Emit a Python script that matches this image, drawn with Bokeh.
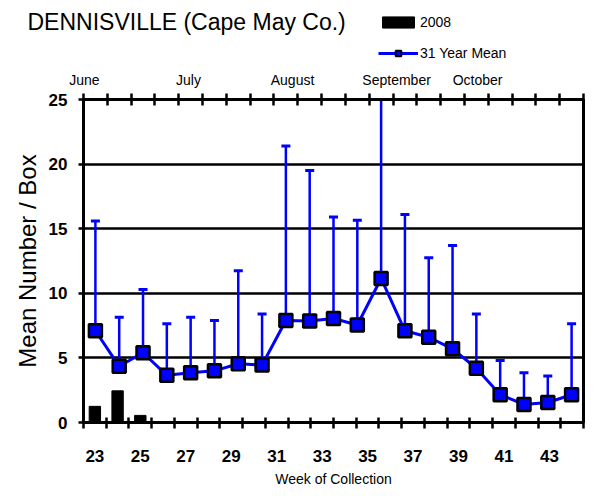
import numpy as np
from bokeh.plotting import figure
from bokeh.models import Range1d, LinearAxis, FixedTicker, Legend, LegendItem, Label, ColumnDataSource
from bokeh.layouts import column
from bokeh.embed import file_html
from bokeh.resources import INLINE

# ---- data ----
weeks = [23, 24, 25, 26, 27, 28, 29, 30, 31, 32, 33, 34, 35, 36, 37, 38, 39, 40, 41, 42, 43, 44]
week_labels = [23, 25, 27, 29, 31, 33, 35, 37, 39, 41, 43]
bars_2008 = [1.25, 2.45, 0.55, 0, 0, 0, 0, 0, 0, 0, 0, 0, 0, 0, 0, 0, 0, 0, 0, 0, 0, 0]

mean_slot = [1, 2, 3, 4, 5, 6, 7, 8, 9, 10, 11, 12, 13, 14, 15, 16, 17, 18, 19, 20, 21]
mean_31yr = [7.1, 4.35, 5.4, 3.65, 3.85, 4.0, 4.55, 4.45, 7.9, 7.85, 8.05,
             7.55, 11.15, 7.1, 6.6, 5.7, 4.2, 2.15, 1.4, 1.55, 2.15]
mean_upper = [15.6, 8.15, 10.3, 7.65, 8.15, 7.9, 11.75, 8.4, 21.4, 19.5, 15.9,
              15.65, 25.0, 16.1, 12.75, 13.7, 8.4, 4.8, 3.85, 3.6, 7.65]

months = ["June", "July", "August", "September", "October"]
month_pos = [0.54, 4.91, 9.28, 13.65, 17.05]

FONT = "Liberation Sans"
BLUE = "#0000FF"
W = 590
HEAD_H = 68

# ================= header: title + legend =================
head = figure(width=W, height=HEAD_H, x_range=Range1d(0, 1), y_range=Range1d(0, 1),
              x_axis_type=None, y_axis_type=None, output_backend="svg", toolbar_location=None,
              min_border_left=0, min_border_right=0, min_border_top=0, min_border_bottom=0)
head.frame_align = False
head.outline_line_color = None
head.xgrid.visible = False
head.ygrid.visible = False
head.background_fill_color = "white"
head.border_fill_color = "white"

# legend-only renderers (one undefined point: they draw nothing in the header itself)
swatch = ColumnDataSource(data=dict(x=np.array([np.nan]), y=np.array([np.nan])))
leg_bar = head.vbar(x="x", top="y", width=0.5, source=swatch, fill_color="black", line_color="black")
leg_line = head.line(x="x", y="y", source=swatch, line_color=BLUE, line_width=3)
leg_mark = head.scatter(x="x", y="y", source=swatch, marker="square", size=13,
                        fill_color=BLUE, line_color="black", line_width=2)

legend = Legend(items=[LegendItem(label="2008", renderers=[leg_bar]),
                       LegendItem(label="31 Year Mean", renderers=[leg_line, leg_mark])],
                location=(378, 7.5), glyph_width=40, glyph_height=14, spacing=15,
                label_text_font=FONT, label_text_font_size="14px", label_standoff=2,
                label_text_color="black", padding=0, margin=0,
                border_line_color=None, background_fill_alpha=0)
head.add_layout(legend)

head.add_layout(Label(x=27, y=HEAD_H - 21, x_units="screen", y_units="screen",
                      text="DENNISVILLE (Cape May Co.)", text_font=FONT, text_font_size="23px",
                      text_color="black", text_align="left", text_baseline="middle"))

# ================= main chart =================
p = figure(width=W, height=496 - HEAD_H, x_range=Range1d(22.5, 44.5), y_range=Range1d(0, 25),
           output_backend="svg", toolbar_location=None,
           min_border_left=83, min_border_right=7, min_border_top=25, min_border_bottom=74)
p.frame_align = False
p.extra_x_ranges = {"mean": Range1d(0.5, 21.5)}
p.background_fill_color = "white"
p.border_fill_color = "white"
p.outline_line_color = "black"
p.outline_line_width = 3

p.xgrid.visible = False
p.ygrid.ticker = FixedTicker(ticks=[0, 5, 10, 15, 20, 25])
p.ygrid.grid_line_color = "black"
p.ygrid.grid_line_width = 2.5

# bottom axis
xa = p.xaxis[0]
xa.ticker = FixedTicker(ticks=week_labels, minor_ticks=[w - 0.5 for w in weeks] + [weeks[-1] + 0.5])
xa.major_tick_in = 0
xa.major_tick_out = 0
xa.minor_tick_in = 5
xa.minor_tick_out = 6
xa.minor_tick_line_width = 2.5
xa.minor_tick_line_color = "black"
xa.axis_line_width = 3
xa.axis_line_color = "black"
xa.major_label_text_font = FONT
xa.major_label_text_font_size = "17px"
xa.major_label_text_font_style = "bold"
xa.major_label_text_color = "black"
xa.major_label_standoff = 21
xa.axis_label = "Week of Collection"
xa.axis_label_text_font = FONT
xa.axis_label_text_font_size = "14px"
xa.axis_label_text_font_style = "normal"
xa.axis_label_text_color = "black"
xa.axis_label_standoff = 6

# left axis
ya = p.yaxis[0]
ya.ticker = FixedTicker(ticks=[0, 5, 10, 15, 20, 25])
ya.minor_tick_line_color = None
ya.major_tick_in = 0
ya.major_tick_out = 5
ya.major_tick_line_width = 2.5
ya.major_tick_line_color = "black"
ya.axis_line_width = 3
ya.axis_line_color = "black"
ya.major_label_text_font = FONT
ya.major_label_text_font_size = "17px"
ya.major_label_text_font_style = "bold"
ya.major_label_text_color = "black"
ya.major_label_standoff = 11
ya.axis_label = "Mean Number / Box"
ya.axis_label_text_font = FONT
ya.axis_label_text_font_size = "24px"
ya.axis_label_text_font_style = "normal"
ya.axis_label_text_color = "black"
ya.axis_label_standoff = 5

# top axis (months)
top = LinearAxis(x_range_name="mean",
                 ticker=FixedTicker(ticks=month_pos,
                                    minor_ticks=[s - 0.5 for s in mean_slot] + [mean_slot[-1] + 0.5]))
top.major_label_overrides = {pos: name for pos, name in zip(month_pos, months)}
top.major_tick_in = 0
top.major_tick_out = 0
top.minor_tick_in = 6
top.minor_tick_out = 6
top.minor_tick_line_width = 2.5
top.minor_tick_line_color = "black"
top.axis_line_width = 3
top.axis_line_color = "black"
top.major_label_text_font = FONT
top.major_label_text_font_size = "14px"
top.major_label_text_color = "black"
top.major_label_standoff = 6
p.add_layout(top, "above")

# bars (2008)
p.vbar(x=weeks, top=bars_2008, width=0.5, fill_color="black", line_color="black")

# error bars
p.segment(x0=mean_slot, y0=mean_31yr, x1=mean_slot, y1=mean_upper, x_range_name="mean",
          line_color=BLUE, line_width=2.5)
p.scatter(x=mean_slot, y=mean_upper, marker="dash", size=9, line_color=BLUE, line_width=3,
          x_range_name="mean")

# mean line + markers
p.line(x=mean_slot, y=mean_31yr, x_range_name="mean", line_color=BLUE, line_width=3)
p.scatter(x=mean_slot, y=mean_31yr, x_range_name="mean", marker="square", size=13,
          fill_color=BLUE, line_color="black", line_width=2.5)

layout = column(head, p, spacing=0)
open("out.html", "w").write(file_html(layout, INLINE))
